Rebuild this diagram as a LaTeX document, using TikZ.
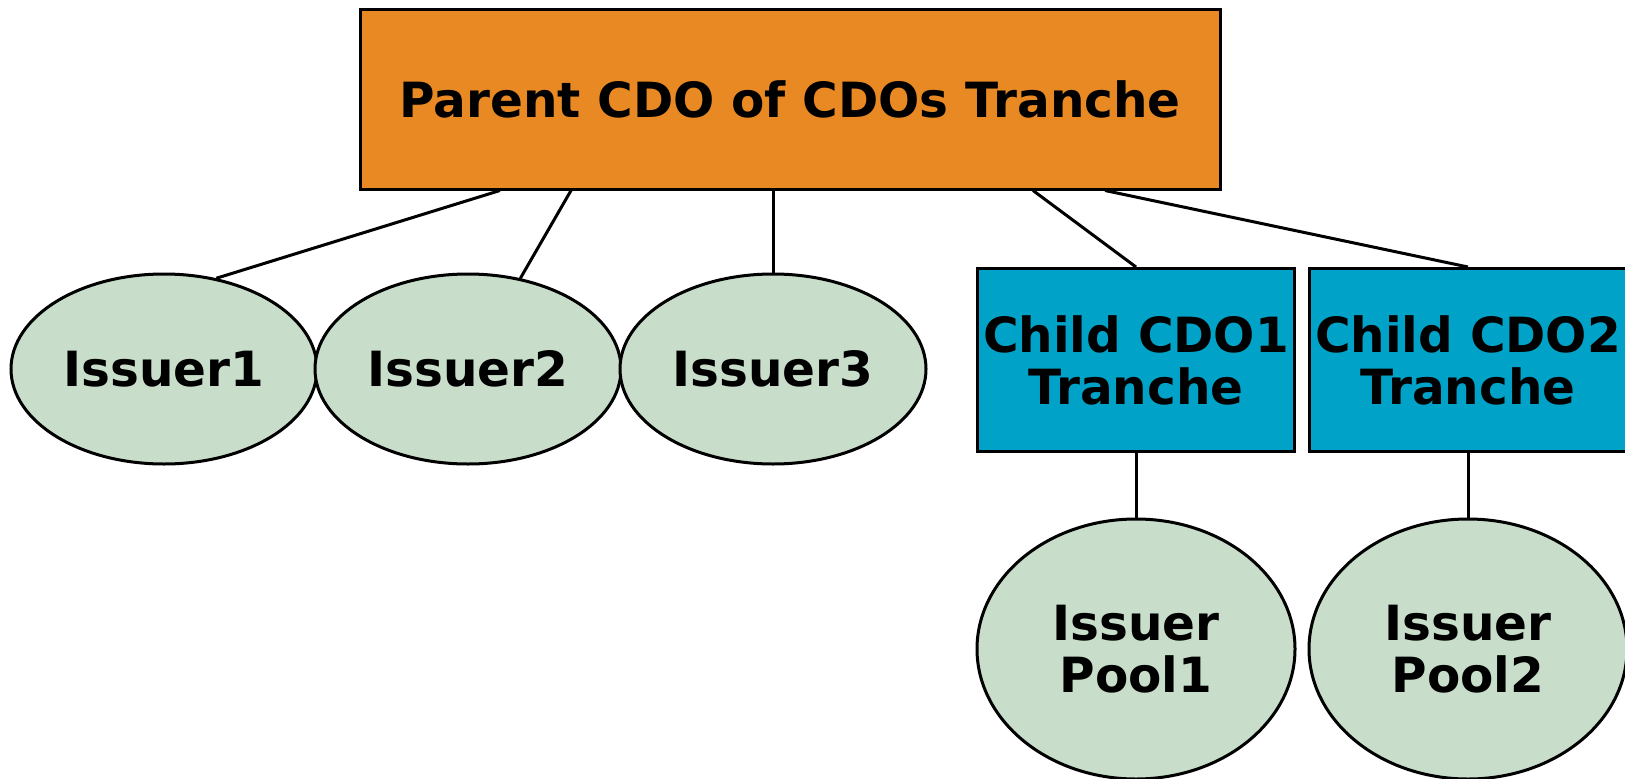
\documentclass[tikz,border=0pt]{standalone}
\usepackage{fontspec}
\setmainfont{DejaVu Sans}
\usepackage{xcolor}
\usetikzlibrary{shapes.geometric}
\definecolor{parentorange}{RGB}{232,137,36}
\definecolor{childblue}{RGB}{0,163,199}
\definecolor{issuergreen}{RGB}{200,222,203}

\begin{document}
\begin{tikzpicture}[x=1pt,y=-1pt,line width=3pt,
  every node/.style={font=\fontsize{48.5}{52}\selectfont\bfseries,align=center,inner sep=0pt,draw=black},
  tranchebox/.style={rectangle,fill=childblue,minimum width=317,minimum height=183},
  issuer/.style={ellipse,fill=issuergreen,minimum width=306,minimum height=190},
  pool/.style={ellipse,fill=issuergreen,minimum width=318,minimum height=260}]
\useasboundingbox(0,0)rectangle(1625,779);
\node[rectangle,fill=parentorange,minimum width=860,minimum height=180](parent)at(790,99){Parent CDO of CDOs Tranche};
\node[issuer](iss1)at(164,369){Issuer1};
\node[issuer](iss2)at(468,369){Issuer2};
\node[issuer](iss3)at(773,369){Issuer3};
\node[tranchebox](child1)at(1136,360){Child CDO1\\Tranche};
\node[tranchebox](child2)at(1468,360){Child CDO2\\Tranche};
\node[pool](pool1)at(1136,649){Issuer\\Pool1};
\node[pool](pool2)at(1468,649){Issuer\\Pool2};
\draw([xshift=-290pt]parent.south)--(iss1.60);
\draw([xshift=-219pt]parent.south)--(iss2.60);
\draw(iss3.north|-parent.south)--(iss3.north);
\draw([xshift=243pt]parent.south)--(child1.north);
\draw([xshift=315pt]parent.south)--(child2.north);
\draw(child1.south)--(pool1.north);\draw(child2.south)--(pool2.north);
\end{tikzpicture}
\end{document}
